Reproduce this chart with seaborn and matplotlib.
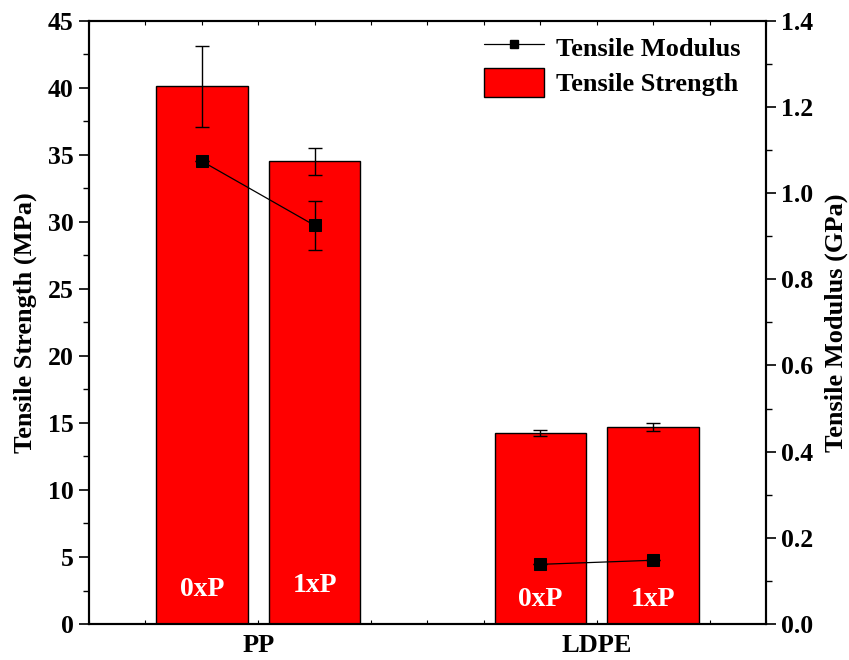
import numpy as np
import pandas as pd
import matplotlib
matplotlib.use("Agg")
import matplotlib.pyplot as plt
from matplotlib.lines import Line2D
from matplotlib.patches import Patch
from matplotlib.ticker import MultipleLocator, FixedLocator, FormatStrFormatter
import seaborn as sns

# ---- data ----
materials = ["PP", "LDPE"]
treatments = ["0xP", "1xP"]
strength_mpa = [40.1, 34.5, 14.24, 14.7]        # PP-0xP, PP-1xP, LDPE-0xP, LDPE-1xP
strength_err = [3.03, 1.0, 0.25, 0.31]
modulus_gpa = [1.074, 0.925, 0.1385, 0.148]
modulus_err = [0.0, 0.056, 0.0, 0.0]

rows = []
for i, m in enumerate(materials):
    for j, t in enumerate(treatments):
        k = i * len(treatments) + j
        rows.append(dict(material=m, treatment=t, strength=strength_mpa[k],
                         s_err=strength_err[k], modulus=modulus_gpa[k],
                         m_err=modulus_err[k]))
df = pd.DataFrame(rows)

sns.set_theme(style="white")
plt.rcParams["font.family"] = ["Liberation Serif", "DejaVu Serif"]
plt.rcParams["font.weight"] = "bold"
plt.rcParams["axes.labelweight"] = "bold"
for key in ("text.color", "axes.labelcolor", "xtick.color", "ytick.color",
            "axes.edgecolor"):
    plt.rcParams[key] = "black"

fig = plt.figure(figsize=(8.49, 6.6), dpi=100)
ax = fig.add_axes([0.1048, 0.0545, 0.9022 - 0.1048, 0.9686 - 0.0545])

group_width = 2 / 3
sns.barplot(data=df, x="material", y="strength", hue="treatment",
            order=materials, hue_order=treatments,
            palette=["#FF0000", "#FF0000"], saturation=1, width=group_width, gap=0.19,
            edgecolor="black", linewidth=1.0, errorbar=None, legend=False, ax=ax)

# x positions of the dodged bars
offsets = {t: (j - (len(treatments) - 1) / 2) * group_width / len(treatments)
           for j, t in enumerate(treatments)}
df["xpos"] = [materials.index(m) + offsets[t] for m, t in zip(df.material, df.treatment)]

ax.errorbar(df.xpos, df.strength, yerr=df.s_err, fmt="none", ecolor="black",
            elinewidth=1.0, capsize=4.7, capthick=1.0, zorder=5)

# treatment labels inside the bars
label_y = [2.55, 2.9, 1.8, 1.8]
for (x, t), ly in zip(zip(df.xpos, df.treatment), label_y):
    ax.text(x, ly, t, color="white", ha="center", va="center",
            fontsize=20, fontweight="bold", zorder=6)

ax.set_xlim(-0.5, 1.5)
ax.set_ylim(0, 45)
ax.set_xlabel("")
ax.set_ylabel("Tensile Strength (MPa)", fontsize=19, fontweight="bold", labelpad=8)
ax.yaxis.set_major_locator(MultipleLocator(5))
ax.yaxis.set_minor_locator(MultipleLocator(2.5))
ax.xaxis.set_minor_locator(FixedLocator(np.arange(-0.5, 1.5001, 1 / 6)))
ax.tick_params(axis="y", which="major", direction="out", length=7, width=1.2,
               labelsize=18.5, pad=4, left=True, right=False)
ax.tick_params(axis="y", which="minor", direction="out", length=4, width=1.0,
               left=True, right=False)
ax.tick_params(axis="x", which="major", direction="in", length=3, width=0.8,
               labelsize=19, pad=7, bottom=True, top=True)
ax.tick_params(axis="x", which="minor", direction="in", length=3, width=0.8,
               bottom=True, top=True)
for lab in ax.get_xticklabels() + ax.get_yticklabels():
    lab.set_fontweight("bold")
for s in ax.spines.values():
    s.set_visible(True)
    s.set_color("black")
    s.set_linewidth(1.5)

# modulus on the secondary axis
ax2 = ax.twinx()
sns.lineplot(data=df, x="xpos", y="modulus", units="material", estimator=None,
             color="black", linewidth=0.9, marker="s", markersize=8,
             markeredgecolor="black", markerfacecolor="black", ax=ax2, zorder=7)
ax2.errorbar(df.xpos, df.modulus, yerr=df.m_err, fmt="none", ecolor="black",
             elinewidth=1.0, capsize=4.7, capthick=1.0, zorder=6)
ax2.set_ylim(0, 1.4)
ax2.set_xlim(-0.5, 1.5)
ax2.set_ylabel("Tensile Modulus (GPa)", fontsize=19, fontweight="bold", labelpad=8)
ax2.set_xlabel("")
ax2.yaxis.set_major_locator(MultipleLocator(0.2))
ax2.yaxis.set_minor_locator(MultipleLocator(0.1))
ax2.yaxis.set_major_formatter(FormatStrFormatter("%.1f"))
ax2.tick_params(axis="y", which="major", direction="out", length=7, width=1.2,
                labelsize=18.5, pad=4, right=True)
ax2.tick_params(axis="y", which="minor", direction="out", length=4, width=1.0, right=True)
for lab in ax2.get_yticklabels():
    lab.set_fontweight("bold")
for s in ax2.spines.values():
    s.set_color("black")
    s.set_linewidth(1.5)

handles = [
    Line2D([], [], color="black", linewidth=0.9, marker="s", markersize=6,
           markerfacecolor="black"),
    Patch(facecolor="#FF0000", edgecolor="black", linewidth=1.0),
]
ax2.legend(handles, ["Tensile Modulus", "Tensile Strength"], loc="upper right",
           bbox_to_anchor=(0.998, 1.02), frameon=False,
           prop={"weight": "bold", "size": 19}, handlelength=2.3, handleheight=1.3,
           handletextpad=0.45, labelspacing=0.25)

fig.savefig("out.png", dpi=100)
